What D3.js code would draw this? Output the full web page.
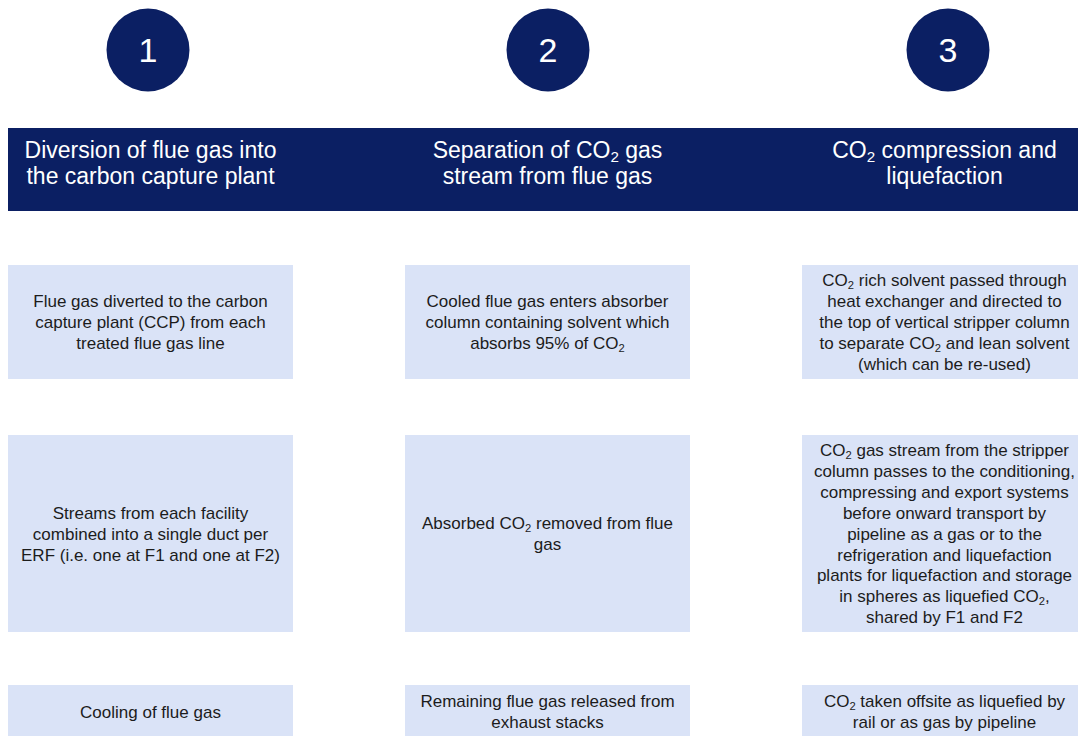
<!DOCTYPE html>
<html>
<head>
<meta charset="utf-8">
<script src="https://cdn.jsdelivr.net/npm/d3@7"></script>
<style>
  body { margin: 0; background: #fff; }
  svg { display: block; font-family: "Liberation Sans", Arial, sans-serif; }
</style>
</head>
<body>
<svg id="chart" width="1078" height="736"></svg>
<script>
// step numbers and titles ("_2" marks a subscript 2)
var steps = ["1", "2", "3"];
var titles = [
  ["Diversion of flue gas into", "the carbon capture plant"],
  ["Separation of CO_2 gas", "stream from flue gas"],
  ["CO_2 compression and", "liquefaction"]
];

// description boxes, one array per row, one entry per column
var row1 = [
  ["Flue gas diverted to the carbon", "capture plant (CCP) from each", "treated flue gas line"],
  ["Cooled flue gas enters absorber", "column containing solvent which", "absorbs 95% of CO_2"],
  ["CO_2 rich solvent passed through", "heat exchanger and directed to", "the top of vertical stripper column",
   "to separate CO_2 and lean solvent", "(which can be re-used)"]
];
var row2 = [
  ["Streams from each facility", "combined into a single duct per", "ERF (i.e. one at F1 and one at F2)"],
  ["Absorbed CO_2 removed from flue", "gas"],
  ["CO_2 gas stream from the stripper", "column passes to the conditioning,", "compressing and export systems",
   "before onward transport by", "pipeline as a gas or to the", "refrigeration and liquefaction",
   "plants for liquefaction and storage", "in spheres as liquefied CO_2,", "shared by F1 and F2"]
];
var row3 = [
  ["Cooling of flue gas"],
  ["Remaining flue gas released from", "exhaust stacks"],
  ["CO_2 taken offsite as liquefied by", "rail or as gas by pipeline"]
];
var rows = [row1, row2, row3];

// layout
var navy = "#0b1f63", boxFill = "#dae3f7", textCol = "#1c1c1c";
var colW = 285;
var rowTop = [265, 435, 685], rowBottom = [379, 632, 738];

var svg = d3.select("#chart");

var x = d3.scaleLinear().domain([0, 1]).range([8, 405]);      // column left edge
var cx = d3.scaleLinear().domain([0, 1]).range([148, 548]);   // step circle centre

// one line of text, with "_2" drawn as a subscript
function addLine(textSel, str, fs) {
  var parts = str.split("_2");
  var shift = fs * 0.18;
  parts.forEach(function(p, i) {
    var t = textSel.append("tspan").text(p);
    if (i > 0) t.attr("dy", -shift);
    if (i < parts.length - 1) {
      textSel.append("tspan").attr("dy", shift).attr("font-size", fs * 0.66).text("2");
    }
  });
}

// lines centred vertically on yc
function block(g, lines, xc, yc, fs, lh, fill) {
  var y0 = yc - (lines.length - 1) * lh / 2 + fs * 0.36;
  lines.forEach(function(l, i) {
    var t = g.append("text")
      .attr("x", xc).attr("y", y0 + i * lh)
      .attr("text-anchor", "middle")
      .attr("font-size", fs)
      .attr("fill", fill);
    addLine(t, l, fs);
  });
}

// step circles
var circ = svg.selectAll("g.step").data(steps).enter().append("g").attr("class", "step");
circ.append("circle")
  .attr("cx", function(d, i) { return cx(i); })
  .attr("cy", 50).attr("r", 41.5)
  .attr("fill", navy);
circ.append("text")
  .attr("x", function(d, i) { return cx(i); })
  .attr("y", 62)
  .attr("text-anchor", "middle")
  .attr("font-size", 34)
  .attr("fill", "#fff")
  .text(function(d) { return d; });

// header band
svg.append("rect").attr("x", 8).attr("y", 128).attr("width", 1070).attr("height", 83).attr("fill", navy);
titles.forEach(function(t, i) {
  block(svg, t, x(i) + colW / 2, 162.5, 23, 26.5, "#fff");
});

// description boxes
rows.forEach(function(row, r) {
  row.forEach(function(lines, c) {
    svg.append("rect")
      .attr("x", x(c)).attr("y", rowTop[r])
      .attr("width", colW).attr("height", rowBottom[r] - rowTop[r])
      .attr("fill", boxFill);
    block(svg, lines, x(c) + colW / 2, (rowTop[r] + rowBottom[r]) / 2, 17, 20.9, textCol);
  });
});
</script>
</body>
</html>
